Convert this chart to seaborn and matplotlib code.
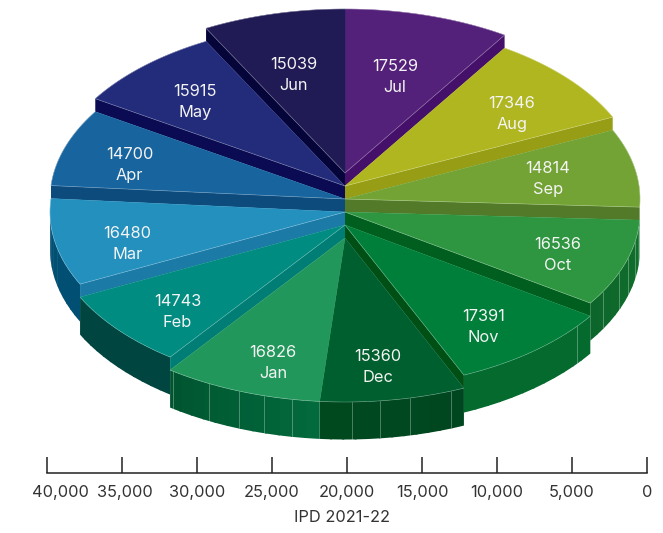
import numpy as np
import seaborn as sns
import matplotlib.pyplot as plt
from matplotlib.transforms import ScaledTranslation

months = ['Jul', 'Aug', 'Sep', 'Oct', 'Nov', 'Dec', 'Jan', 'Feb', 'Mar', 'Apr', 'May', 'Jun']
ipd = [17529, 17346, 14814, 16536, 17391, 15360, 16826, 14743, 16480, 14700, 15915, 15039]
scale_ticks = [40000, 35000, 30000, 25000, 20000, 15000, 10000, 5000, 0]
axis_title = 'IPD 2021-22'

top_colors = ['#54217a', '#afb61f', '#72a334', '#2e9640', '#007f3a', '#005f2e',
              '#22975c', '#008c80', '#2490be', '#17649e', '#232c7a', '#201b54']
wall_colors = ['#45106a', '#979e16', '#527a28', '#005f1f', '#004f15', None,
               None, '#007e75', '#1c7aa7', '#0d4b7d', '#0a0b52', '#05053a']
rim_colors = [None, None, None, ('#12702b', '#0c662b'), ('#046a2e', '#046a2e'), ('#004720', '#00491f'),
              ('#026a3c', '#005530'), ('#00453f', '#00453f'), ('#014f72', '#014f72'), None, None, None]
# stair step of each slice, 0 is the back pair, 5 the front pair
steps = [0, 1, 2, 3, 4, 5, 5, 4, 3, 2, 1, 0]
rim_lines = {3: [95, 100.6, 106.4, 111.7, 119], 4: [128.2], 5: [158.9, 167.3, 173.2, 178.6],
             6: [190.4, 195.9, 201, 207.5, 215.6]}
label_rx = [.6, .75, .7, .76, .73, .68, .69, .74, .75, .77, .745, .72]
label_ry = [.62, .69, .69, .8, .8, .785, .8, .81, .99, .69, .72, .63]

cx, rx, ry = 345, 295, 164
tip0, step_h, rim_h = 173, 13, 37.5

sns.set_theme(style='white')
plt.rcParams['font.family'] = ['Inter', 'DejaVu Sans']

fig = plt.figure(figsize=(6.63, 5.33), dpi=100)
ax = fig.add_axes([0, 0, 1, 1])
ax.set_xlim(0, 663)
ax.set_ylim(533, 0)
ax.axis('off')

edges = np.concatenate([[0], np.cumsum(ipd)]) / np.sum(ipd) * 360


def rim_xy(theta, y0):
    t = np.radians(theta)
    return cx + rx * np.sin(t), y0 - ry * np.cos(t)


# back to front so the lower steps sit over the higher ones
for i in sorted(range(len(ipd)), key=lambda k: steps[k]):
    a, b = edges[i], edges[i + 1]
    y0 = tip0 + steps[i] * step_h
    th = np.linspace(a, b, 80)
    x, y = rim_xy(th, y0)

    if rim_colors[i] is not None:
        lo, hi = max(a, 90), min(b, 270)
        n = 12
        shades = sns.blend_palette(rim_colors[i], n)
        cuts = np.linspace(lo, hi, n + 1)
        for j in range(n):
            # each strip runs a bit under the next one, that hides the seams
            seg = np.linspace(cuts[j], min(cuts[j + 1] + .4, hi), 5)
            sx, sy = rim_xy(seg, y0)
            ax.fill(np.r_[sx, sx[::-1]], np.r_[sy, sy[::-1] + rim_h],
                    color=shades[j], lw=0, zorder=1 + steps[i])
        for t in rim_lines.get(i, []):
            lx, ly = rim_xy(t, y0)
            ax.plot([lx, lx], [ly, ly + rim_h], color='white', alpha=.3, lw=.7, zorder=1.05 + steps[i])

    if wall_colors[i] is not None:
        # wall stands on the edge that faces the next step down
        e = b if i < 6 else a
        ex, ey = rim_xy(e, y0)
        ax.fill([cx, ex, ex, cx], [y0, ey, ey + step_h, y0 + step_h],
                color=wall_colors[i], lw=0, zorder=1.1 + steps[i])

    ax.fill(np.r_[cx, x], np.r_[y0, y], color=top_colors[i], lw=.3, zorder=1.5 + steps[i])
    ax.plot(x, y, color='white', alpha=.3, lw=.5, zorder=1.6 + steps[i])
    if wall_colors[i] is not None:
        ax.plot([cx, ex], [y0, ey], color='white', alpha=.3, lw=.5, zorder=1.6 + steps[i])

    mid = np.radians((a + b) / 2)
    lx = cx + rx * label_rx[i] * np.sin(mid)
    ly = y0 - ry * label_ry[i] * np.cos(mid) + 2
    ax.text(lx, ly - 10.5, str(ipd[i]), ha='center', va='center', color='#f4f4f4', fontsize=11.8, zorder=20)
    ax.text(lx, ly + 10.5, months[i], ha='center', va='center', color='#f4f4f4', fontsize=11.8, zorder=20)

# value scale under the pie
scale = fig.add_axes([47 / 663, 1 - 473 / 533, 600 / 663, 30 / 533])
scale.patch.set_alpha(0)
scale.set_xlim(40000, 0)
scale.set_ylim(0, 1)
scale.set_yticks([])
scale.set_xticks(scale_ticks)
scale.set_xticklabels([f'{v:,}' for v in scale_ticks], fontsize=11.8, color='#333333')
scale.tick_params(axis='x', direction='in', length=11.5, width=1.1, color='#222222', pad=8.5, bottom=True)
sns.despine(ax=scale, left=True, right=True, top=True)
scale.spines['bottom'].set_color('#222222')
scale.spines['bottom'].set_linewidth(1.1)
for lab, shift in zip(scale.get_xticklabels(), [13, 2.5]):
    lab.set_transform(lab.get_transform() + ScaledTranslation(shift / 100, 0, fig.dpi_scale_trans))
scale.set_xlabel(axis_title, fontsize=11.8, color='#333333')
scale.xaxis.set_label_coords(295 / 600, -37 / 30)

fig.savefig('out.png', dpi=100)
